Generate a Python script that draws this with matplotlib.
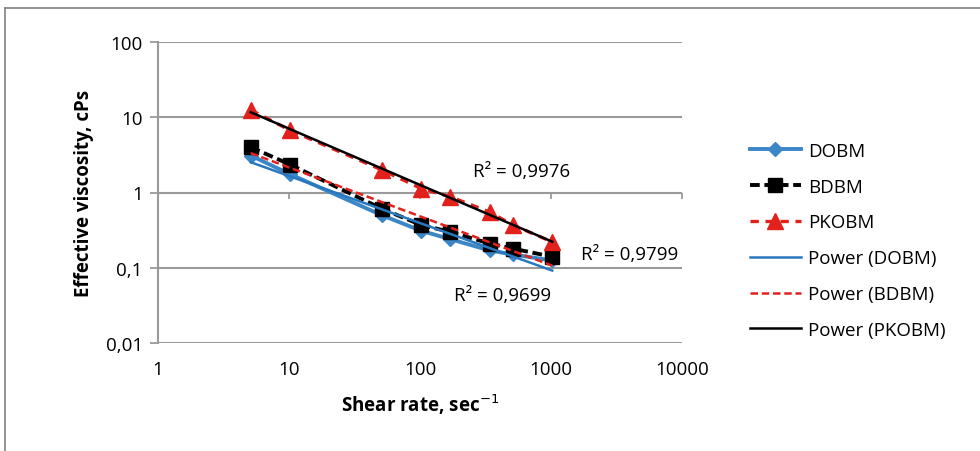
import matplotlib
import numpy as np
import matplotlib.pyplot as plt
from matplotlib.lines import Line2D

matplotlib.use('Agg')

shear_rate = [5.1, 10.2, 51, 102, 170, 340, 511, 1022]
dobm = [3.1, 1.75, 0.50, 0.31, 0.24, 0.17, 0.15, 0.125]
bdbm = [4.0, 2.35, 0.61, 0.37, 0.30, 0.21, 0.18, 0.14]
pkobm = [12.5, 6.7, 2.0, 1.13, 0.88, 0.55, 0.37, 0.22]
r2_labels = ['R² = 0,9699', 'R² = 0,9799', 'R² = 0,9976']
x_ticks = [1, 10, 100, 1000, 10000]
x_labels = ['1', '10', '100', '1000', '10000']
y_ticks = [0.01, 0.1, 1, 10, 100]
y_labels = ['0,01', '0,1', '1', '10', '100']

plt.rcParams['font.family'] = ['Open Sans', 'DejaVu Sans']

fig = plt.figure(figsize=(9.8, 4.52), dpi=100)
ax = fig.add_axes([158 / 980, 1 - 344 / 452, (682 - 158) / 980, (344 - 43) / 452])

blue = '#3b86c6'
red = '#e3211c'
grid_c = '#9a9a9a'

x = np.array(shear_rate)

# data series
ax.plot(x, dobm, color=blue, lw=2.8, marker='D', ms=7, zorder=3)
ax.plot(x, bdbm, color='black', lw=2.8, ls=(0, (2.5, 1.2)), marker='s', ms=10, zorder=3)
ax.plot(x, pkobm, color=red, lw=2.4, ls=(0, (2.5, 2)), marker='^', ms=12, zorder=3)

# power trendlines (fit in log space)
def power_fit(y):
    b, a = np.polyfit(np.log10(x), np.log10(y), 1)
    return 10 ** a * x ** b

ax.plot(x, power_fit(dobm), color='#2878c0', lw=1.8, zorder=4)
ax.plot(x, power_fit(bdbm), color=red, lw=1.8, ls=(0, (3, 1.5)), zorder=4)
ax.plot(x, power_fit(pkobm), color='black', lw=1.8, zorder=4)

ax.set_xscale('log')
ax.set_yscale('log')
ax.set_xlim(1, 10000)
ax.set_ylim(0.01, 100)

ax.set_yticks(y_ticks)
ax.set_yticklabels(y_labels, fontsize=13.5)
ax.yaxis.set_minor_locator(matplotlib.ticker.NullLocator())
ax.xaxis.set_minor_locator(matplotlib.ticker.NullLocator())
ax.set_xticks(x_ticks)
ax.set_xticklabels(x_labels, fontsize=13.5)
ax.tick_params(axis='x', length=0, pad=12)
ax.tick_params(axis='y', length=6, color=grid_c, width=1.3, pad=5)

for s in ['top', 'right', 'bottom']:
    ax.spines[s].set_visible(False)
ax.spines['left'].set_color(grid_c)
ax.spines['left'].set_linewidth(1.5)
ax.grid(axis='y', color=grid_c, lw=1.5)
ax.set_axisbelow(True)

# horizontal axis crosses at 1: tick marks hang below that line
ax.vlines(x_ticks, 0.48, 0.5, transform=ax.get_xaxis_transform(), color=grid_c, lw=1.3,
          zorder=1, clip_on=False)

ax.set_xlabel('Shear rate, sec$^{-1}$', fontsize=13.5, fontweight='bold', labelpad=10)
ax.set_ylabel('Effective viscosity, cPs', fontsize=13.5, fontweight='bold', labelpad=8)

ax.text(430, 0.043, r2_labels[0], fontsize=13.5, ha='center', va='center')
ax.text(1700, 0.15, r2_labels[1], fontsize=13.5, ha='left', va='center')
ax.text(600, 1.96, r2_labels[2], fontsize=13.5, ha='center', va='center')

handles = [
    Line2D([], [], color=blue, lw=2.8, marker='D', ms=7),
    Line2D([], [], color='black', lw=2.8, ls=(0, (2.5, 1.2)), marker='s', ms=10),
    Line2D([], [], color=red, lw=2.4, ls=(0, (2.5, 2)), marker='^', ms=12),
    Line2D([], [], color='#2878c0', lw=1.8),
    Line2D([], [], color=red, lw=1.8, ls=(0, (3, 1.5))),
    Line2D([], [], color='black', lw=1.8),
]
labels = ['DOBM', 'BDBM', 'PKOBM', 'Power (DOBM)', 'Power (BDBM)', 'Power (PKOBM)']
fig.legend(handles, labels, loc='upper left', bbox_to_anchor=(733 / 980, 1 - 126 / 452),
           frameon=False, fontsize=13.5, labelspacing=0.95, handlelength=2.7, handletextpad=0.4)

# outer chart frame
fig.add_artist(Line2D([5 / 980, 1], [1 - 9 / 452, 1 - 9 / 452], color='#808080', lw=1.2))
fig.add_artist(Line2D([5 / 980, 5 / 980], [0, 1 - 9 / 452], color='#808080', lw=1.2))

plt.savefig('out.png', dpi=100)
plt.close()
